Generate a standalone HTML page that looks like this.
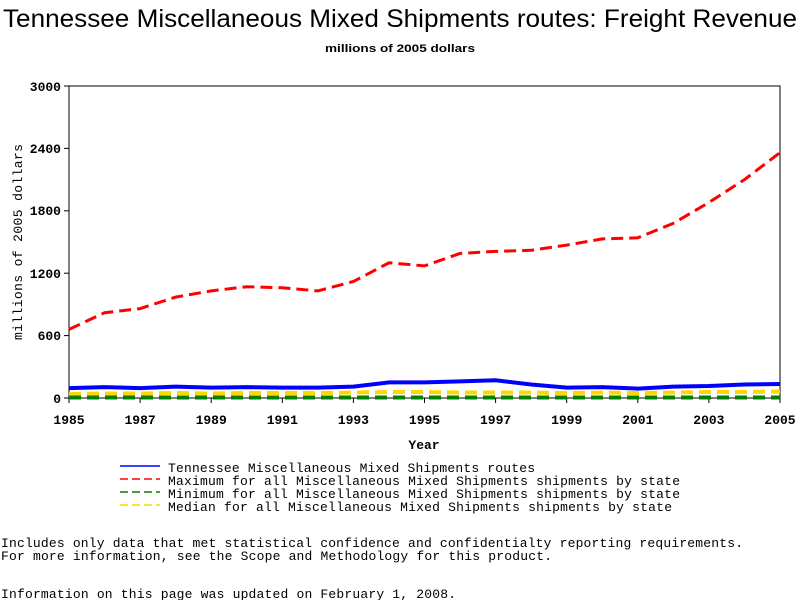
<!DOCTYPE html>
<html><head><meta charset="utf-8"><style>
body{margin:0;background:#fff;}
svg{display:block;}
text{font-family:"Liberation Mono","DejaVu Sans Mono",monospace;}
</style></head><body>
<svg width="800" height="600" xmlns="http://www.w3.org/2000/svg">
<text x="400" y="27" text-anchor="middle" font-size="25" textLength="794" lengthAdjust="spacingAndGlyphs" style="font-family:'Liberation Sans',sans-serif">Tennessee Miscellaneous Mixed Shipments routes: Freight Revenue</text>
<text x="400" y="52" text-anchor="middle" font-size="11" font-weight="bold" textLength="150" lengthAdjust="spacingAndGlyphs" style="font-family:'Liberation Sans',sans-serif">millions of 2005 dollars</text>
<rect x="69" y="86" width="711" height="312" fill="none" stroke="#000" stroke-width="1"/>
<g stroke="#000">
<line x1="64" y1="86" x2="69" y2="86"/><line x1="64" y1="148.4" x2="69" y2="148.4"/><line x1="64" y1="210.8" x2="69" y2="210.8"/><line x1="64" y1="273.2" x2="69" y2="273.2"/><line x1="64" y1="335.6" x2="69" y2="335.6"/><line x1="64" y1="398" x2="69" y2="398"/>
<line x1="69" y1="398" x2="69" y2="403"/><line x1="140.1" y1="398" x2="140.1" y2="403"/><line x1="211.2" y1="398" x2="211.2" y2="403"/><line x1="282.3" y1="398" x2="282.3" y2="403"/><line x1="353.4" y1="398" x2="353.4" y2="403"/><line x1="424.5" y1="398" x2="424.5" y2="403"/><line x1="495.6" y1="398" x2="495.6" y2="403"/><line x1="566.7" y1="398" x2="566.7" y2="403"/><line x1="637.8" y1="398" x2="637.8" y2="403"/><line x1="708.9" y1="398" x2="708.9" y2="403"/><line x1="780" y1="398" x2="780" y2="403"/>
</g>
<g font-size="13" font-weight="bold" text-anchor="end">
<text x="61" y="91">3000</text><text x="61" y="153">2400</text><text x="61" y="215">1800</text><text x="61" y="278">1200</text><text x="61" y="340">600</text><text x="61" y="403">0</text>
</g>
<g font-size="13" font-weight="bold" text-anchor="middle">
<text x="69" y="424">1985</text><text x="140.1" y="424">1987</text><text x="211.2" y="424">1989</text><text x="282.3" y="424">1991</text><text x="353.4" y="424">1993</text><text x="424.5" y="424">1995</text><text x="495.6" y="424">1997</text><text x="566.7" y="424">1999</text><text x="637.8" y="424">2001</text><text x="708.9" y="424">2003</text><text x="780" y="424">2005</text>
<text x="424" y="449">Year</text>
</g>
<text transform="translate(22,242) rotate(-90)" font-size="13" text-anchor="middle" textLength="196" lengthAdjust="spacing">millions of 2005 dollars</text>
<polyline fill="none" stroke="#ffd700" stroke-width="4" stroke-dasharray="12,6" points="69,394 104.6,393.5 140.1,393.5 175.7,393 211.2,393.5 246.8,393 282.3,393 317.9,393 353.4,392.5 389,392 424.5,392 460.1,392.5 495.6,392.5 531.2,392.5 566.7,393 602.3,392.5 637.8,393 673.4,392.5 708.9,392 744.5,392 780,391.5"/>
<polyline fill="none" stroke="#008000" stroke-width="4" stroke-dasharray="12,6" points="69,397.5 780,397.5"/>
<polyline fill="none" stroke="#0000ff" stroke-width="4" points="69,388.1 104.6,387.1 140.1,388.1 175.7,386.6 211.2,387.6 246.8,387.1 282.3,387.6 317.9,387.6 353.4,386.6 389,382.4 424.5,382.4 460.1,381.4 495.6,380.3 531.2,384.5 566.7,387.6 602.3,387.1 637.8,388.6 673.4,386.6 708.9,386 744.5,384.5 780,384"/>
<polyline fill="none" stroke="#ff0000" stroke-width="3" stroke-dasharray="12,6" points="69,329.4 104.6,312.7 140.1,308.6 175.7,297.1 211.2,290.9 246.8,286.7 282.3,287.8 317.9,290.9 353.4,281.5 389,262.8 424.5,265.9 460.1,253.4 495.6,251.4 531.2,250.3 566.7,245.1 602.3,238.9 637.8,237.8 673.4,223.3 708.9,202.5 744.5,179.6 780,152.6"/>
<g stroke-width="1.5">
<line x1="120" y1="466" x2="160" y2="466" stroke="#0000ff"/>
<line x1="120" y1="479" x2="160" y2="479" stroke="#ff0000" stroke-dasharray="8,4"/>
<line x1="120" y1="492" x2="160" y2="492" stroke="#008000" stroke-dasharray="8,4"/>
<line x1="120" y1="505" x2="160" y2="505" stroke="#ffd700" stroke-dasharray="8,4"/>
</g>
<g font-size="13">
<text x="168" y="472" textLength="367" lengthAdjust="spacing">Tennessee Miscellaneous Mixed Shipments routes</text>
<text x="168" y="485" textLength="512" lengthAdjust="spacing">Maximum for all Miscellaneous Mixed Shipments shipments by state</text>
<text x="168" y="498" textLength="512" lengthAdjust="spacing">Minimum for all Miscellaneous Mixed Shipments shipments by state</text>
<text x="168" y="511" textLength="504" lengthAdjust="spacing">Median for all Miscellaneous Mixed Shipments shipments by state</text>
<text x="1" y="547" textLength="742" lengthAdjust="spacing">Includes only data that met statistical confidence and confidentialty reporting requirements.</text>
<text x="1" y="560" textLength="551" lengthAdjust="spacing">For more information, see the Scope and Methodology for this product.</text>
<text x="1" y="598" textLength="455" lengthAdjust="spacing">Information on this page was updated on February 1, 2008.</text>
</g>
</svg>
</body></html>
